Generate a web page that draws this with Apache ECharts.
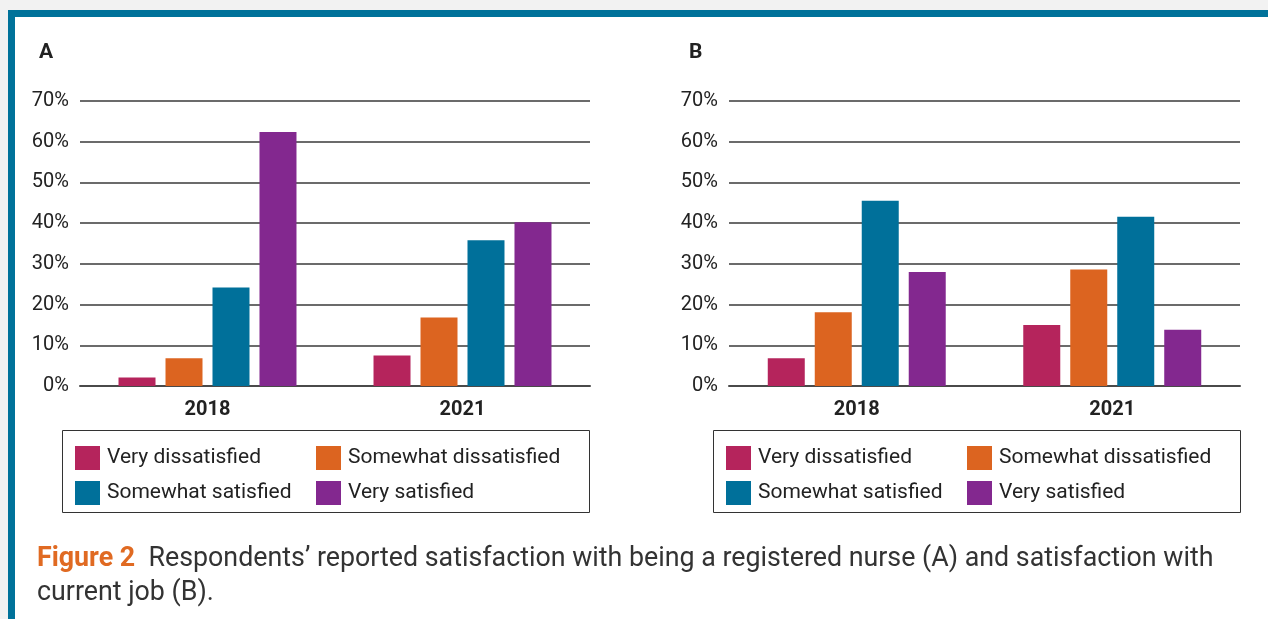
<!DOCTYPE html>
<html lang="en">
<head>
    <meta charset="UTF-8">
    <title>Figure 2</title>
    <script src="https://cdn.jsdelivr.net/npm/echarts@6/dist/echarts.min.js"></script>
    <style>
        html, body {
            margin: 0;
            padding: 0;
            background: #fff;
        }
        #chart {
            width: 1268px;
            height: 619px;
        }
    </style>
</head>
<body>
<div id="chart"></div>
<script>
    const years = ['2018', '2021'];
    const levels = ['Very dissatisfied', 'Somewhat dissatisfied', 'Somewhat satisfied', 'Very satisfied'];
    const colors = ['#B5245C', '#DC6420', '#00709A', '#83288F'];

    // panel A: satisfaction with being a registered nurse
    const nurseVeryDis = [2.1, 7.5];
    const nurseSomeDis = [6.8, 16.8];
    const nurseSomeSat = [24.2, 35.8];
    const nurseVerySat = [62.4, 40.2];

    // panel B: satisfaction with current job
    const jobVeryDis = [6.8, 15.0];
    const jobSomeDis = [18.1, 28.6];
    const jobSomeSat = [45.5, 41.6];
    const jobVerySat = [28.0, 13.8];

    const yTicks = {min: 0, max: 70, interval: 10};

    const panelA = [nurseVeryDis, nurseSomeDis, nurseSomeSat, nurseVerySat];
    const panelB = [jobVeryDis, jobSomeDis, jobSomeSat, jobVerySat];

    const font = 'Roboto, "Liberation Sans", sans-serif';

    function makeXAxis(idx) {
        return {
            type: 'category',
            gridIndex: idx,
            data: years,
            axisTick: {show: false},
            axisLine: {lineStyle: {color: '#4a4a4a', width: 2}},
            axisLabel: {
                color: '#222',
                fontFamily: font,
                fontWeight: 'bold',
                fontSize: 20,
                margin: 14
            }
        };
    }

    function makeYAxis(idx) {
        return {
            type: 'value',
            gridIndex: idx,
            min: yTicks.min,
            max: yTicks.max,
            interval: yTicks.interval,
            axisLine: {show: false},
            axisTick: {show: false},
            axisLabel: {
                color: '#222',
                fontFamily: font,
                fontSize: 20,
                margin: 11,
                formatter: '{value}%'
            },
            splitLine: {lineStyle: {color: '#3a3a3a', width: 1.5}}
        };
    }

    function makeSeries(values, idx) {
        return values.map(function (data, i) {
            return {
                name: levels[i],
                type: 'bar',
                xAxisIndex: idx,
                yAxisIndex: idx,
                data: data,
                barWidth: 37,
                barGap: '27%',
                itemStyle: {color: colors[i]}
            };
        });
    }

    function makeLegend(left, names) {
        return {
            orient: 'vertical',
            left: left,
            top: 441,
            itemWidth: 25,
            itemHeight: 24,
            itemGap: 11,
            icon: 'rect',
            selectedMode: false,
            data: names,
            textStyle: {
                color: '#222',
                fontFamily: font,
                fontSize: 21,
                padding: [0, 0, 0, 2]
            }
        };
    }

    const chart = echarts.init(document.getElementById('chart'));
    const option = {
        animation: false,
        color: colors,
        title: [
            {
                text: 'A', left: 34, top: 37,
                textStyle: {fontFamily: font, fontSize: 21, fontWeight: 'bold', color: '#222'}
            },
            {
                text: 'B', left: 684, top: 37,
                textStyle: {fontFamily: font, fontSize: 21, fontWeight: 'bold', color: '#222'}
            },
            {
                text: '{fig|Figure 2}  Respondents\u2019 reported satisfaction with being a registered nurse (A) and satisfaction with\ncurrent job (B).',
                left: 32,
                top: 537,
                textStyle: {
                    fontFamily: font,
                    fontSize: 26.8,
                    fontWeight: 'normal',
                    color: '#333',
                    lineHeight: 34,
                    rich: {
                        fig: {
                            fontFamily: font,
                            fontSize: 26.8,
                            fontWeight: 'bold',
                            color: '#E06A22',
                            lineHeight: 34
                        }
                    }
                }
            }
        ],
        legend: [
            makeLegend(70, [levels[0], levels[2]]),
            makeLegend(311, [levels[1], levels[3]]),
            makeLegend(721, [levels[0], levels[2]]),
            makeLegend(962, [levels[1], levels[3]])
        ],
        grid: [
            {left: 80, right: 678, top: 101, bottom: 233},
            {left: 729, right: 28, top: 101, bottom: 233}
        ],
        xAxis: [makeXAxis(0), makeXAxis(1)],
        yAxis: [makeYAxis(0), makeYAxis(1)],
        series: makeSeries(panelA, 0).concat(makeSeries(panelB, 1)),
        graphic: [
            {type: 'rect', shape: {x: 0, y: 0, width: 1268, height: 10}, style: {fill: '#f2f2f2'}, silent: true},
            {type: 'rect', shape: {x: 0, y: 0, width: 8, height: 619}, style: {fill: '#f2f2f2'}, silent: true},
            {type: 'rect', shape: {x: 8, y: 10, width: 1260, height: 7}, style: {fill: '#00729A'}, silent: true},
            {type: 'rect', shape: {x: 8, y: 10, width: 7, height: 609}, style: {fill: '#00729A'}, silent: true},
            {
                type: 'rect', shape: {x: 62.5, y: 430.5, width: 527, height: 82},
                style: {fill: 'none', stroke: '#333', lineWidth: 1}, silent: true
            },
            {
                type: 'rect', shape: {x: 713.5, y: 430.5, width: 527, height: 82},
                style: {fill: 'none', stroke: '#333', lineWidth: 1}, silent: true
            }
        ]
    };
    chart.setOption(option);
</script>
</body>
</html>
